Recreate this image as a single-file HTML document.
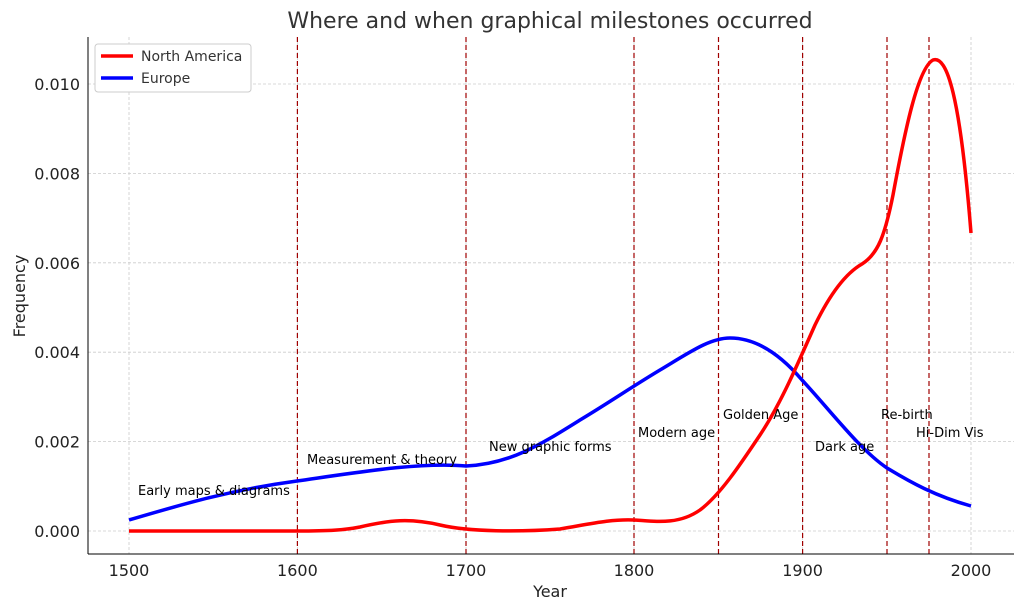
<!DOCTYPE html>
<html><head><meta charset="utf-8"><style>body{margin:0;background:#fff}svg{display:block}</style></head>
<body>
<svg width="1024" height="610" xmlns="http://www.w3.org/2000/svg" font-family="DejaVu Sans, Liberation Sans, sans-serif">
<rect width="1024" height="610" fill="#fff"/>
<g stroke="#cccccc" stroke-width="0.8" stroke-dasharray="3,2">
<line x1="129" y1="37" x2="129" y2="554"/><line x1="297.4" y1="37" x2="297.4" y2="554"/><line x1="466" y1="37" x2="466" y2="554"/><line x1="634" y1="37" x2="634" y2="554"/><line x1="802.6" y1="37" x2="802.6" y2="554"/><line x1="971" y1="37" x2="971" y2="554"/>
<line x1="88" y1="531" x2="1014" y2="531"/><line x1="88" y1="441.6" x2="1014" y2="441.6"/><line x1="88" y1="352.2" x2="1014" y2="352.2"/><line x1="88" y1="262.8" x2="1014" y2="262.8"/><line x1="88" y1="173.4" x2="1014" y2="173.4"/><line x1="88" y1="84" x2="1014" y2="84"/>
</g>
<g stroke="#a00000" stroke-width="1.2" stroke-dasharray="5,3">
<line x1="297.4" y1="37" x2="297.4" y2="554"/><line x1="466" y1="37" x2="466" y2="554"/><line x1="634" y1="37" x2="634" y2="554"/><line x1="718.5" y1="37" x2="718.5" y2="554"/><line x1="802.6" y1="37" x2="802.6" y2="554"/><line x1="887" y1="37" x2="887" y2="554"/><line x1="929" y1="37" x2="929" y2="554"/>
</g>
<path d="M129,520 C180,505 230,490 297,481 C360,472 420,462 466,466 C510,464 540,445 580,420 C610,402 630,388 660,370 C690,352 710,338 730,338 C760,338 785,360 802,380 C830,410 860,450 887,468 C910,482 935,496 971,506" fill="none" stroke="#0000ff" stroke-width="3.5"/>
<path d="M129,531 L297,531 C330,531 345,530 360,527 C390,520 410,518 440,525 C470,532 520,532 560,529 C590,524 610,519 634,520 C660,522 680,524 700,510 C720,495 740,465 760,435 C780,405 795,370 815,325 C832,290 848,272 862,264 C878,254 885,235 893,195 C905,130 918,68 933,60 C947,55 960,95 971,233" fill="none" stroke="#ff0000" stroke-width="3.5"/>
<g fill="none" stroke="#000" stroke-width="1"><line x1="88" y1="37" x2="88" y2="554"/><line x1="88" y1="554" x2="1014" y2="554"/></g>
<g font-size="16" fill="#222" text-anchor="middle">
<text x="129" y="576">1500</text><text x="297.4" y="576">1600</text><text x="466" y="576">1700</text><text x="634" y="576">1800</text><text x="802.6" y="576">1900</text><text x="971" y="576">2000</text>
</g>
<g font-size="16" fill="#222" text-anchor="end">
<text x="80" y="537">0.000</text><text x="80" y="447.6">0.002</text><text x="80" y="358.2">0.004</text><text x="80" y="268.8">0.006</text><text x="80" y="179.4">0.008</text><text x="80" y="90">0.010</text>
</g>
<text x="550" y="597" font-size="16" text-anchor="middle" fill="#222">Year</text>
<text transform="translate(25,296) rotate(-90)" font-size="16" text-anchor="middle" fill="#222">Frequency</text>
<text x="550" y="28" font-size="22" text-anchor="middle" fill="#333">Where and when graphical milestones occurred</text>
<g font-size="13" fill="#000">
<text x="138" y="495">Early maps &amp; diagrams</text><text x="307" y="464">Measurement &amp; theory</text><text x="489" y="451">New graphic forms</text><text x="638" y="437">Modern age</text><text x="723" y="419">Golden Age</text><text x="815" y="451">Dark age</text><text x="881" y="419">Re-birth</text><text x="916" y="437">Hi-Dim Vis</text>
</g>
<rect x="95" y="44" width="156" height="48" fill="#fff" stroke="#ccc" rx="3"/>
<line x1="101" y1="56" x2="133" y2="56" stroke="#ff0000" stroke-width="3.5"/>
<line x1="101" y1="78" x2="133" y2="78" stroke="#0000ff" stroke-width="3.5"/>
<text x="141" y="61" font-size="14" fill="#333">North America</text>
<text x="141" y="83" font-size="14" fill="#333">Europe</text>
</svg>
</body></html>
